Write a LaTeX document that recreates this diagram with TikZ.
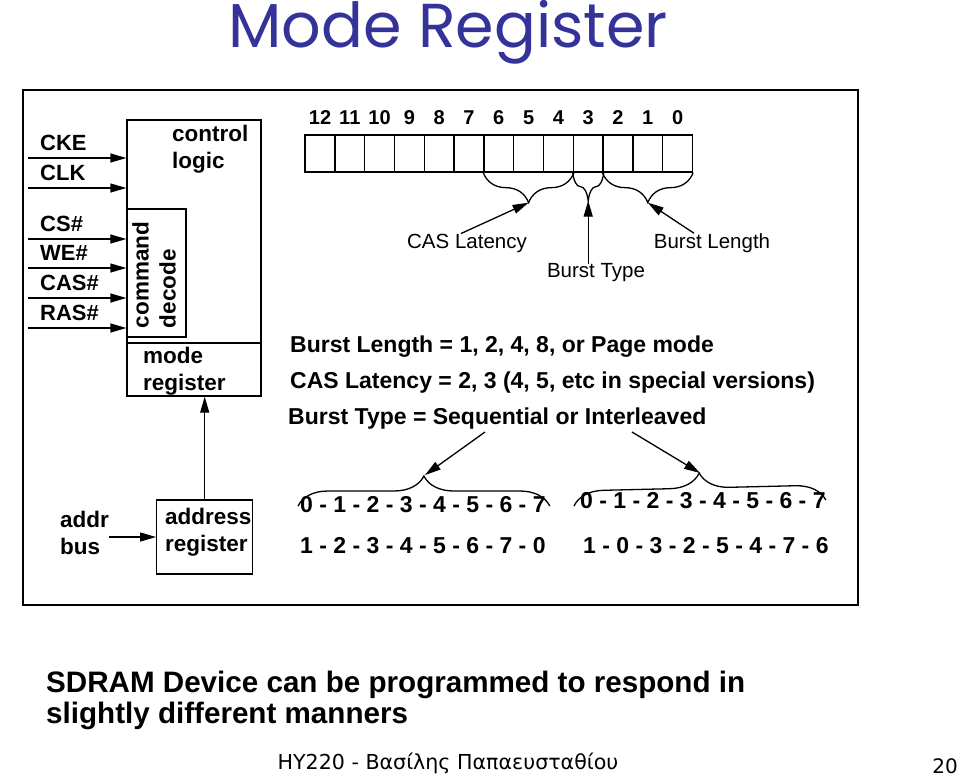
\documentclass[tikz,border=0pt]{standalone}
\usepackage{fontspec}
\setmainfont{Liberation Sans}
\newfontfamily\titlefont{Poppins}
\newfontfamily\greekfont{DejaVu Sans}
\usetikzlibrary{arrows.meta,decorations.pathreplacing,calc}
\definecolor{titleblue}{RGB}{51,51,153}
\tikzstyle{box} = [rectangle,draw,line width=1.3pt,inner sep=0pt]

\begin{document}
\begin{tikzpicture}
		[x=1pt,y=-1pt,
		arr/.style={
		line width=1.3pt,
		-{Triangle[length=16pt,width=9pt]}},
		sig/.style={font=\fontsize{22}{22}\selectfont\bfseries,anchor=west,inner sep=0pt},
		blocktext/.style={font=\fontsize{22.5}{27}\selectfont\bfseries,align=left,inner sep=0pt},
		cell/.style={box,minimum width=29.8pt,minimum height=37pt},
		bitnum/.style={font=\fontsize{20}{20}\selectfont\bfseries,inner sep=0pt,text height=14.5pt,text depth=0pt},
		field/.style={font=\fontsize{20.5}{20.5}\selectfont,inner sep=0pt},
		ruleline/.style={font=\fontsize{23}{23}\selectfont\bfseries,anchor=west,inner sep=0pt},
		seq/.style={font=\fontsize{23}{23}\selectfont\bfseries,anchor=west,inner sep=0pt},
		note/.style={font=\fontsize{29.6}{29.6}\selectfont\bfseries,anchor=base west,inner sep=0pt},
		brc/.style={decorate,decoration={brace,amplitude=30pt},line width=1.3pt}
		]
		\useasboundingbox (0,0) rectangle (960,780);

		\node[font=\titlefont\fontsize{62}{62}\selectfont,text=titleblue] (title) at (448,32) {Mode Register};
		\node[box,line width=1.8pt,minimum width=835pt,minimum height=515pt] (frame) at (440.5,347.5) {};

		\node[box,minimum width=134pt,minimum height=276pt] (ctrl) at (194,258) {};
		\node[blocktext,anchor=north west] (ctrlText) at (172,125) {control\\logic};
		\node[box,minimum width=134pt,minimum height=53pt] (modeReg) at (194,369.5) {};
		\node[blocktext,anchor=west] (modeText) at (143,371) {mode\\register};
		\node[box,minimum width=59pt,minimum height=128pt] (cmd) at (156.5,273) {};
		\node[blocktext,rotate=90] (cmdText) at (154,275) {command\\decode};

		\foreach \sname/\y [count=\k] in {CKE/158,CLK/188,CS\#/239,WE\#/268,CAS\#/298,RAS\#/328}{
		\coordinate (src\k) at (28,\y);
		\draw[arr] (src\k) -- (src\k -| ctrl.west);
		\node[sig] (sig\k) at (40,\y-15) {\sname};
		}

		\node[box,minimum width=96pt,minimum height=74pt] (addrReg) at (204.7,537) {};
		\node[blocktext,anchor=west] (addrText) at (165,532.5) {address\\register};
		\draw[arr] (addrReg.north) -- (addrReg.north |- modeReg.south);
		\node[blocktext,anchor=west] (addrBus) at (60,532.5) {addr\\bus};
		\draw[arr] (addrBus.east |- addrReg.west) -- (addrReg.west);

		\foreach \bit [count=\i from 0] in {12,11,...,0}
		\node[cell,label={[bitnum,label distance=10pt]above:\bit}] (b\bit) at ({320+29.8*\i},153.5) {};

		\draw[brc] (b4.south east) -- (b6.south west);
		\draw[brc,decoration={amplitude=28pt}] (b3.south east) -- (b3.south west);
		\draw[brc] (b0.south east) -- (b2.south west);
		\coordinate (clTip) at ($(b4.south east)!0.5!(b6.south west)+(0,30)$);
		\coordinate (btTip) at ($(b3.south east)!0.5!(b3.south west)+(0,28)$);
		\coordinate (blTip) at ($(b0.south east)!0.5!(b2.south west)+(0,30)$);

		\node[field] (clLbl) at (467,243) {CAS Latency};
		\node[field] (btLbl) at (596,273) {Burst Type};
		\node[field] (blLbl) at (712,243) {Burst Length};
		\draw[arr] ($(clLbl.north)+(-6,0)$) -- (clTip);
		\draw[arr] (btLbl.north -| btTip) -- (btTip);
		\draw[arr] ($(blLbl.north)+(-18,0)$) -- (blTip);

		\node[ruleline] (blRule) at (290,347) {Burst Length = 1, 2, 4, 8, or Page mode};
		\node[ruleline] (clRule) at (290,383) {CAS Latency = 2, 3 (4, 5, etc in special versions)};
		\node[ruleline] (btRule) at (288,419) {Burst Type = Sequential or Interleaved};

		\node[seq] (seqA) at (300,505) {0 - 1 - 2 - 3 - 4 - 5 - 6 - 7};
		\node[seq] (seqA2) at (300,546) {1 - 2 - 3 - 4 - 5 - 6 - 7 - 0};
		\node[seq] (seqB) at (580,501) {0 - 1 - 2 - 3 - 4 - 5 - 6 - 7};
		\node[seq] (seqB2) at (583,546) {1 - 0 - 3 - 2 - 5 - 4 - 7 - 6};
		\draw[brc] ($(seqA.west)+(-2,1)$) -- ($(seqA.east)+(4,1)$);
		\draw[brc] ($(seqB.west)+(-6,5)$) -- ($(seqB.east)+(0,-1)$);
		\coordinate (seqTip) at (425,475);
		\coordinate (intTip) at (700,473);
		\coordinate (seqFrom) at (485,432);
		\coordinate (intFrom) at (632,432);
		\draw[arr] (seqFrom) -- (seqTip);
		\draw[arr] (intFrom) -- (intTip);

		\node[note] (note1) at (46,692) {SDRAM Device can be programmed to respond in};
		\node[note] (note2) at (46,723) {slightly different manners};

		\node[font=\greekfont\fontsize{20.6}{20.6}\selectfont,anchor=base] (footer) at (448,769) {ΗΥ220 - Βασίλης Παπαευσταθίου};
		\node[font=\greekfont\fontsize{20}{20}\selectfont,anchor=base] (page) at (945,773) {20};
		\end{tikzpicture}
\end{document}
